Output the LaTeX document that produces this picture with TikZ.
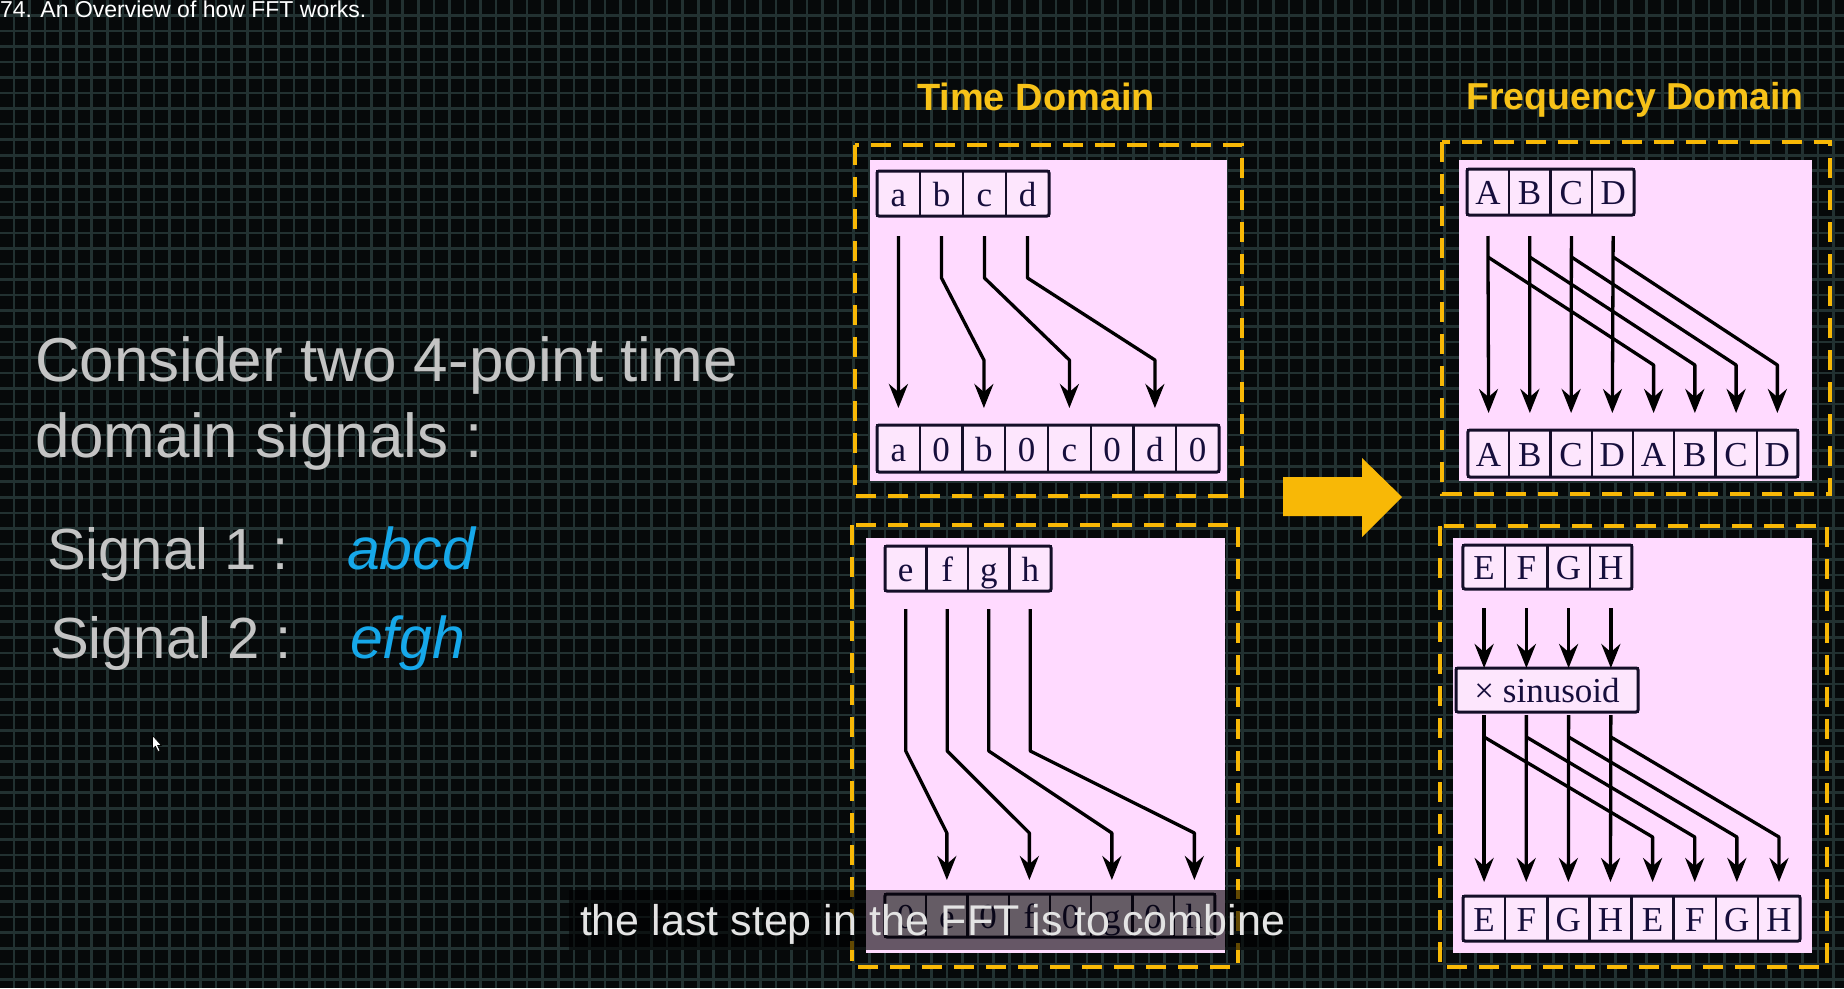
\documentclass[tikz,border=0pt]{standalone}
\usepackage{fontspec}
\setmainfont{Liberation Serif}
\newfontfamily\uisans{Liberation Sans}
\usetikzlibrary{arrows.meta,calc}
\definecolor{bgc}{RGB}{6,9,10}
\definecolor{gridc}{RGB}{34,49,49}
\definecolor{pinkc}{RGB}{255,218,255}
\definecolor{cellc}{RGB}{253,230,253}
\definecolor{inkc}{RGB}{22,14,60}
\definecolor{edgec}{RGB}{20,14,40}
\definecolor{goldc}{RGB}{248,184,6}
\definecolor{titlec}{RGB}{247,194,24}
\definecolor{bluec}{RGB}{22,168,234}
\definecolor{greyc}{RGB}{196,196,196}
\definecolor{subc}{RGB}{228,228,228}
\newcommand\cellfont{\fontsize{35}{40}\selectfont}
\tikzset{
  gridln/.style={draw=gridc, line width=2.6pt},
  cell/.style={draw=edgec, fill=cellc, line width=2.4pt, inner sep=0pt, outer sep=0pt,
    text=inkc, font=\cellfont, text height=25pt, text depth=0pt},
  rowedge/.style={draw=edgec, line width=3pt, rounded corners=2pt},
  frame/.style={draw=goldc, line width=4pt, dash pattern=on 20pt off 12pt},
  panel/.style={fill=pinkc},
  arr/.style={draw=black, line width=3.3pt, line join=round,
    -{Stealth[length=24pt,width=19pt,inset=8pt]}},
  lbl/.style={anchor=base west, inner sep=0pt, outer sep=0pt},
}
\begin{document}
\begin{tikzpicture}[x=1pt,y=-1pt]
\useasboundingbox (0,0) rectangle (1844,988);
\fill[bgc] (0,0) rectangle (1844,988);
% background grid
\foreach \i in {0,...,118} \draw[gridln] ({14+15.55*\i},0) -- ++(0,988);
\foreach \j in {0,...,63} \draw[gridln] (0,{15.25+15.55*\j}) -- ++(1844,0);

% top-left title
\node[lbl, text=white, font={\uisans\fontsize{23}{27}\selectfont}] (title) at (0,17) {74. An Overview of how FFT works.};

% left text
\node[lbl, text=greyc, font={\uisans\fontsize{62}{70}\selectfont}] (l1) at (35,381) {Consider two 4-point time};
\node[lbl, text=greyc, font={\uisans\fontsize{62}{70}\selectfont}] (l2) at (35,457) {domain signals :};
\node[lbl, text=greyc, font={\uisans\fontsize{58}{66}\selectfont}] (s1) at (47,569) {Signal 1 :};
\node[lbl, text=bluec, font={\uisans\itshape\fontsize{59}{66}\selectfont}] (s1v) at (347,569) {abcd};
\node[lbl, text=greyc, font={\uisans\fontsize{58}{66}\selectfont}] (s2) at (50,658) {Signal 2 :};
\node[lbl, text=bluec, font={\uisans\itshape\fontsize{59}{66}\selectfont}] (s2v) at (350,658) {efgh};

% headings
\node[anchor=base, inner sep=0pt, text=titlec, font={\uisans\bfseries\fontsize{38}{44}\selectfont}] (hTime) at (1036,110) {Time Domain};
\node[anchor=base, inner sep=0pt, text=titlec, font={\uisans\bfseries\fontsize{37.5}{44}\selectfont}] (hFreq) at (1635,109) {Frequency Domain};

% frames and panels
\draw[frame] (855,145) rectangle (1242,496);
\draw[frame] (852,525) rectangle (1238,967);
\draw[frame] (1442,142) rectangle (1830,494);
\draw[frame] (1440,526) rectangle (1827,967);
\fill[panel] (870,160) rectangle (1227,481);
\fill[panel] (866,538) rectangle (1225,953);
\fill[panel] (1459,160) rectangle (1812,481);
\fill[panel] (1453,538) rectangle (1812,953);

% big yellow arrow
\fill[goldc] (1283,477) -- (1362,477) -- (1362,458) -- (1402,497) -- (1362,537) -- (1362,516) -- (1283,516) -- cycle;

% ---- Time domain, signal 1
\foreach \t [count=\i] in {a,b,c,d}
  \node[cell, minimum width=43pt, minimum height=45pt] (ta\i) at ({898.5+43*(\i-1)},193.5) {\t};
\foreach \t [count=\i] in {a,0,b,0,c,0,d,0}
  \node[cell, minimum width=42.75pt, minimum height=47pt] (tb\i) at ({898.4+42.75*(\i-1)},448.5) {\t};
\draw[rowedge] (ta1.north west) rectangle (ta4.south east);
\draw[rowedge] (tb1.north west) rectangle (tb8.south east);
\draw[arr] ([yshift=-20pt]ta1.south) -- ([yshift=17pt]tb1.north);
\foreach \s/\d in {2/3,3/5,4/7}
  \draw[arr] ([yshift=-20pt]ta\s.south) -- ++(0,42) -- ([yshift=65pt]tb\d.north) -- ([yshift=17pt]tb\d.north);

% ---- Time domain, signal 2
\foreach \t [count=\i] in {e,f,g,h}
  \node[cell, minimum width=41.5pt, minimum height=45pt] (tc\i) at ({905.75+41.5*(\i-1)},568.5) {\t};
\foreach \t [count=\i] in {0,e,0,f,0,g,0,h}
  \node[cell, minimum width=41.25pt, minimum height=43pt] (td\i) at ({905.6+41.25*(\i-1)},915.5) {\t};
\draw[rowedge] (tc1.north west) rectangle (tc4.south east);
\draw[rowedge] (td1.north west) rectangle (td8.south east);
\foreach \s/\d in {1/2,2/4,3/6,4/8}
  \draw[arr] ([yshift=-18pt]tc\s.south) -- ++(0,142) -- ([yshift=61pt]td\d.north) -- ([yshift=14pt]td\d.north);

% ---- Frequency domain, signal 1
\foreach \t [count=\i] in {A,B,C,D}
  \node[cell, minimum width=41.75pt, minimum height=46pt] (fa\i) at ({1487.9+41.75*(\i-1)},192) {\t};
\foreach \t [count=\i] in {A,B,C,D,A,B,C,D}
  \node[cell, minimum width=41.25pt, minimum height=47pt] (fb\i) at ({1488.6+41.25*(\i-1)},453.5) {\t};
\draw[rowedge] (fa1.north west) rectangle (fa4.south east);
\draw[rowedge] (fb1.north west) rectangle (fb8.south east);
\foreach \s in {1,...,4}
  \draw[arr] ([yshift=-21pt]fa\s.south) -- ([yshift=17pt]fb\s.north);
\foreach \s/\d in {1/5,2/6,3/7,4/8}
  \draw[arr] ([yshift=-42pt]fa\s.south) -- ([yshift=65pt]fb\d.north) -- ([yshift=17pt]fb\d.north);

% ---- Frequency domain, signal 2
\foreach \t [count=\i] in {E,F,G,H}
  \node[cell, minimum width=42.25pt, minimum height=44pt] (fc\i) at ({1484.1+42.25*(\i-1)},567) {\t};
\foreach \t [count=\i] in {E,F,G,H,E,F,G,H}
  \node[cell, minimum width=42.125pt, minimum height=45pt] (fd\i) at ({1484.1+42.125*(\i-1)},918.5) {\t};
\draw[rowedge] (fc1.north west) rectangle (fc4.south east);
\draw[rowedge] (fd1.north west) rectangle (fd8.south east);
\node[cell, minimum width=182pt, minimum height=44pt] (sin) at (1547,690) {× sinusoid\hspace{12pt}};
\draw[rowedge] (sin.north west) rectangle (sin.south east);
\foreach \s in {1,...,4}
  \draw[arr] ([yshift=-19pt]fc\s.south) -- (fc\s.south |- sin.north);
\foreach \s in {1,...,4}
  \draw[arr] ($(fc\s.south |- sin.south)+(0,3)$) -- ([yshift=14pt]fd\s.north);
\foreach \s/\d in {1/5,2/6,3/7,4/8}
  \draw[arr] ($(fc\s.south |- sin.south)+(0,25)$) -- ([yshift=59pt]fd\d.north) -- ([yshift=14pt]fd\d.north);

% subtitle (covers the lower row of the second time-domain panel, as in the reference)
\fill[black, opacity=0.6] (569,890) rectangle (1289,950);
\node[lbl, text=subc, font={\uisans\fontsize{43}{50}\selectfont}] (sub) at (580,935) {the last step in the FFT is to combine};

% mouse pointer
\filldraw[fill=white, draw=black, line width=0.6pt] (152.5,735.5) -- (152.5,749) -- (155.5,746.2) -- (158,751.5) -- (160,750.6) -- (157.6,745.5) -- (161.5,745.5) -- cycle;
\end{tikzpicture}
\end{document}
